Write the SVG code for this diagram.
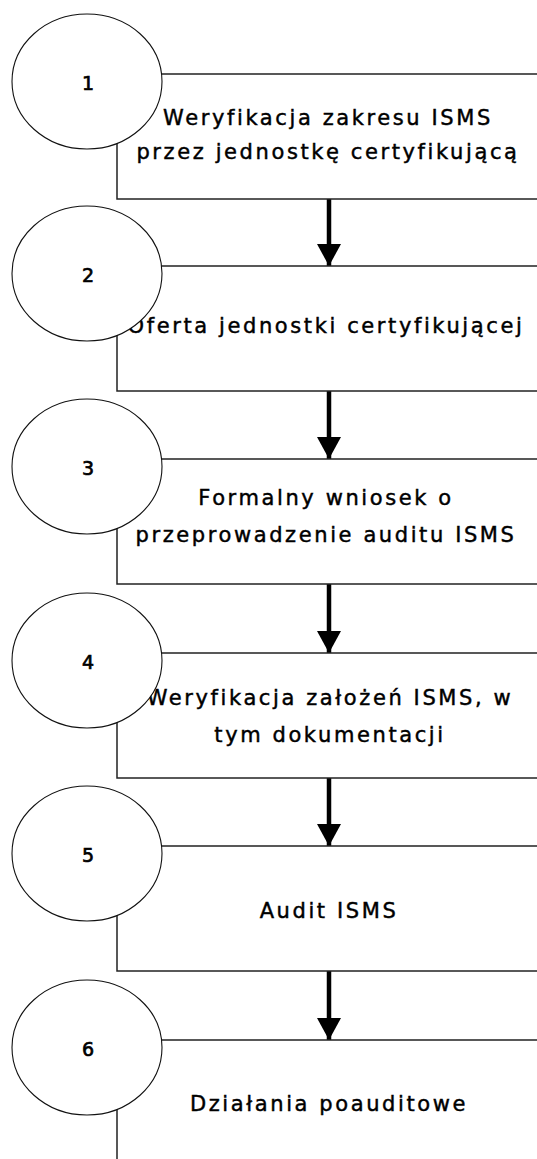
<svg xmlns="http://www.w3.org/2000/svg" width="537" height="1159" viewBox="0 0 537 1159">
<style>
.box{fill:#fff;stroke:#222;stroke-width:1.5}
.circ{fill:#fff;stroke:#111;stroke-width:1.1}
.lbl{font-family:"DejaVu Sans","Liberation Sans",sans-serif;font-size:21px;letter-spacing:2.6px;fill:#000;stroke:#000;stroke-width:0.45;text-anchor:middle}
.num{font-family:"DejaVu Sans","Liberation Sans",sans-serif;font-size:19px;fill:#000;stroke:#000;stroke-width:0.7;text-anchor:middle}
.shaft{stroke:#000;stroke-width:4.5}
</style>
<defs>
<marker id="ah" markerUnits="userSpaceOnUse" markerWidth="26" markerHeight="24" refX="22" refY="12" orient="auto" viewBox="0 0 22 24">
<path d="M0,0 L22,12 L0,24 Z" fill="#000"/>
</marker>
</defs>
<rect width="537" height="1159" fill="#fff"/>
<g id="connectors">
<line class="shaft" x1="329" y1="199" x2="329" y2="266" marker-end="url(#ah)"/>
<line class="shaft" x1="329" y1="391" x2="329" y2="459" marker-end="url(#ah)"/>
<line class="shaft" x1="329" y1="584" x2="329" y2="653" marker-end="url(#ah)"/>
<line class="shaft" x1="329" y1="778" x2="329" y2="846" marker-end="url(#ah)"/>
<line class="shaft" x1="329" y1="971" x2="329" y2="1040" marker-end="url(#ah)"/>
</g>
<g id="step1">
<rect class="box" x="117" y="74" width="430" height="125"/>
<text class="lbl" x="328" y="125">Weryfikacja zakresu ISMS</text>
<text class="lbl" x="328" y="159">przez jednostkę certyfikującą</text>
<ellipse class="circ" cx="87" cy="81.5" rx="75" ry="67.5"/>
<text class="num" x="88" y="90">1</text>
</g>
<g id="step2">
<rect class="box" x="117" y="266" width="430" height="125"/>
<text class="lbl" x="326" y="333">Oferta jednostki certyfikującej</text>
<ellipse class="circ" cx="87" cy="273.5" rx="75" ry="67.5"/>
<text class="num" x="88" y="282">2</text>
</g>
<g id="step3">
<rect class="box" x="117" y="459" width="430" height="125"/>
<text class="lbl" x="326" y="505">Formalny wniosek o</text>
<text class="lbl" x="326" y="542">przeprowadzenie auditu ISMS</text>
<ellipse class="circ" cx="87" cy="466.5" rx="75" ry="67.5"/>
<text class="num" x="88" y="475">3</text>
</g>
<g id="step4">
<rect class="box" x="117" y="653" width="430" height="125"/>
<text class="lbl" x="330" y="705">Weryfikacja założeń ISMS, w</text>
<text class="lbl" x="330" y="742">tym dokumentacji</text>
<ellipse class="circ" cx="87" cy="660.5" rx="75" ry="67.5"/>
<text class="num" x="88" y="669">4</text>
</g>
<g id="step5">
<rect class="box" x="117" y="846" width="430" height="125"/>
<text class="lbl" x="329" y="918">Audit ISMS</text>
<ellipse class="circ" cx="87" cy="853.5" rx="75" ry="67.5"/>
<text class="num" x="88" y="862">5</text>
</g>
<g id="step6">
<rect class="box" x="117" y="1040" width="430" height="125"/>
<text class="lbl" x="329" y="1111">Działania poauditowe</text>
<ellipse class="circ" cx="87" cy="1047.5" rx="75" ry="67.5"/>
<text class="num" x="88" y="1056">6</text>
</g>
</svg>
